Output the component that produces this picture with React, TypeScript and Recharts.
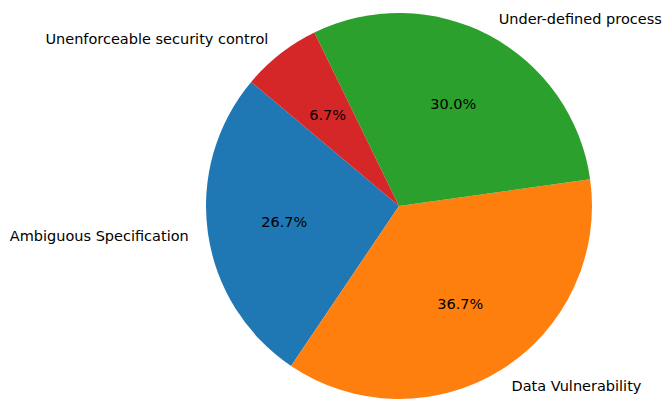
import React from "react";
import { PieChart, Pie, Cell } from "recharts";

const categories = [
  "Ambiguous Specification",
  "Data Vulnerability",
  "Under-defined process",
  "Unenforceable security control",
];
const values = [8, 11, 9, 2];
const colors = ["#1f77b4", "#ff7f0e", "#2ca02c", "#d62728"];

const data = categories.map((name, i) => ({ name, value: values[i] }));
const total = values.reduce((a, b) => a + b, 0);
const RADIAN = Math.PI / 180;
const FONT = "'DejaVu Sans', sans-serif";

const renderLabel = (props: any) => {
  const { cx, cy, midAngle, outerRadius, index } = props;
  const cos = Math.cos(-midAngle * RADIAN);
  const sin = Math.sin(-midAngle * RADIAN);
  const lx = cx + outerRadius * 1.1 * cos;
  const ly = cy + outerRadius * 1.1 * sin;
  const px = cx + outerRadius * 0.6 * cos;
  const py = cy + outerRadius * 0.6 * sin;
  const pct = ((values[index] / total) * 100).toFixed(1) + "%";
  return (
    <g>
      <text
        x={lx}
        y={ly}
        textAnchor={cos >= 0 ? "start" : "end"}
        dominantBaseline="central"
        fontFamily={FONT}
        fontSize={14.5}
        fill="#000"
      >
        {categories[index]}
      </text>
      <text
        x={px}
        y={py}
        textAnchor="middle"
        dominantBaseline="central"
        fontFamily={FONT}
        fontSize={14.5}
        fill="#000"
      >
        {pct}
      </text>
    </g>
  );
};

export default function App() {
  return (
    <div style={{ position: "absolute", left: 0, top: 0, background: "#fff" }}>
      <PieChart width={662} height={400} margin={{ top: 0, right: 0, bottom: 0, left: 0 }}>
        <Pie
          data={data}
          dataKey="value"
          nameKey="name"
          cx={399}
          cy={206}
          outerRadius={193}
          startAngle={140}
          endAngle={500}
          stroke="none"
          label={renderLabel}
          labelLine={false}
          isAnimationActive={false}
        >
          {data.map((d, i) => (
            <Cell key={d.name} fill={colors[i]} />
          ))}
        </Pie>
      </PieChart>
    </div>
  );
}
